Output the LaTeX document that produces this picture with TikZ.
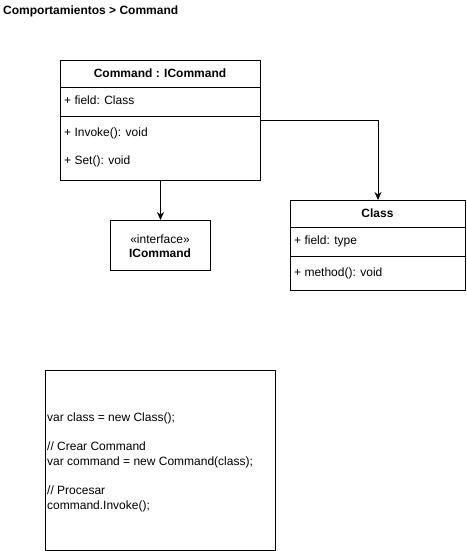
\documentclass[tikz,border=0pt]{standalone}
\usepackage{fontspec}
\setmainfont{Liberation Sans}
\usetikzlibrary{arrows.meta}

\begin{document}
\begin{tikzpicture}[x=1pt,y=-1pt,
  box/.style={draw,line width=1pt,anchor=north west,inner sep=0pt},
  member/.style={anchor=west,inner sep=0pt,yshift=-1.5pt,text height=9pt,text depth=3pt,font=\fontsize{12}{15}\selectfont},
  title/.style={inner sep=0pt,font=\fontsize{12}{14}\selectfont\bfseries},
  link/.style={line width=1pt,-{Stealth[length=8pt,width=7pt]}}]
  \useasboundingbox (0,0) rectangle (466,551);
  \node[title,anchor=west] (heading) at (3,11) {Comportamientos > Command};
  % Command : ICommand
  \node[box,minimum width=200pt,minimum height=120pt] (cmd) at (60,60) {};
  \node[title] (cmdname) at (160,73.5) {Command : ICommand};
  \draw[line width=1pt] (60,87) -- (260,87);
  \node[member] (cmdfield) at (64,100) {+ field: Class};
  \draw[line width=1pt] (60,116) -- (260,116);
  \node[member] (cmdinvoke) at (64,132) {+ Invoke(): void};
  \node[member] (cmdset) at (64,160) {+ Set(): void};
  % ICommand
  \node[box,minimum width=100pt,minimum height=50pt] (icmd) at (110,220) {};
  \node[member,anchor=center] (stereo) at (160,239) {«interface»};
  \node[title] (icmdname) at (160,253) {ICommand};
  % Class
  \node[box,minimum width=175pt,minimum height=90pt] (cls) at (290,200) {};
  \node[title] (clsname) at (377.5,213.5) {Class};
  \draw[line width=1pt] (290,227) -- (465,227);
  \node[member] (clsfield) at (294,240) {+ field: type};
  \draw[line width=1pt] (290,256) -- (465,256);
  \node[member] (clsmethod) at (294,272) {+ method(): void};
  % arrows
  \draw[link] (cmd.south) -- (icmd.north);
  \draw[link] (cmd.east) -| (cls.north);
  % code
  \node[box,minimum width=230pt,minimum height=180pt] (code) at (45,370) {};
  \node[anchor=west,inner sep=0pt,align=left,font=\fontsize{12}{15}\selectfont] (codetext) at (47,462) {var class = new Class();\\[14pt]
    // Crear Command\\
    var command = new Command(class);\\[14pt]
    // Procesar\\
    command.Invoke();};
\end{tikzpicture}
\end{document}
